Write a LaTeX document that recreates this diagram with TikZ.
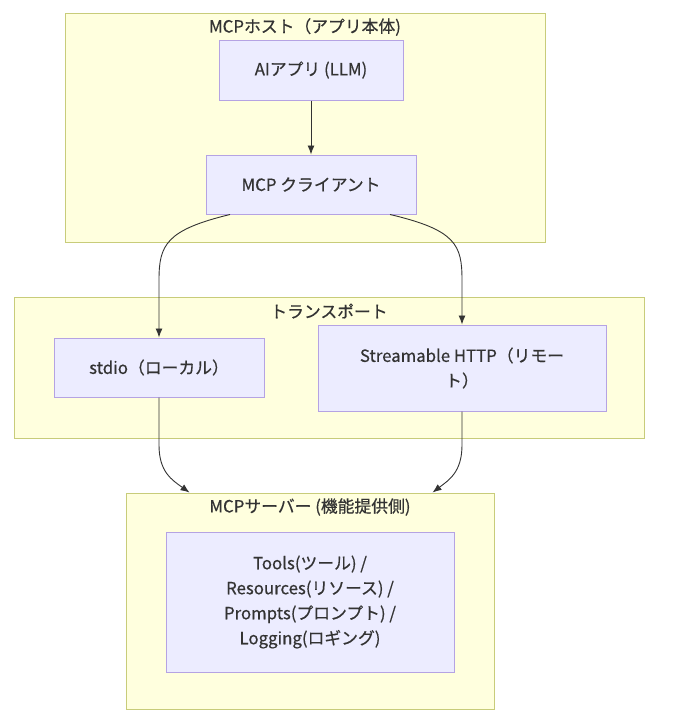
\documentclass[tikz,border=0pt]{standalone}
\usepackage{fontspec}
\setmainfont{Noto Sans CJK JP}[FakeBold=0.5]
\usetikzlibrary{calc, arrows.meta}
\definecolor{GroupFill}{HTML}{FFFFDE}
\definecolor{GroupLine}{HTML}{C8CC7A}
\definecolor{BoxFill}{HTML}{ECECFF}
\definecolor{BoxLine}{HTML}{B5A3E3}
\definecolor{TextGray}{HTML}{333333}
\newcommand{\TextSize}{\fontsize{16.8}{25}\selectfont}
\tikzset{Group/.style 2 args={
		draw=GroupLine,
		fill=GroupFill,
		line width=1pt,
		minimum width=#1,
		minimum height=#2,
		inner sep=0pt,
	},
	Box/.style 2 args={
		draw=BoxLine,
		fill=BoxFill,
		line width=1pt,
		minimum width=#1,
		minimum height=#2,
		inner sep=0pt,
		align=center,
		text=TextGray,
		font=\TextSize,
	},
	Title/.style={
		text=TextGray,
		font=\TextSize,
		inner sep=0pt,
	},
	Link/.style={
		draw=TextGray,
		line width=0.9pt,
		-{Latex[length=9pt,width=7pt]},
	}
}

\begin{document}
\begin{tikzpicture}[x=1pt, y=-1pt]
		\useasboundingbox (0,0) rectangle (675,720);
		% groups
		\node [Group={480pt}{229pt}] (Host) at (305,127.5) {};
		\node [Group={630pt}{141pt}] (Transport) at (329,367.5) {};
		\node [Group={368pt}{216pt}] (Server) at (310,601) {};
		\node [Title] (HostTitle) at (305,27) {MCPホスト（アプリ本体)};
		\node [Title] (TransportTitle) at (329,311) {トランスポート};
		\node [Title] (ServerTitle) at (310,507) {MCPサーバー (機能提供側)};
		% boxes
		\node [Box={184pt}{60pt}] (App) at (311,70) {AIアプリ (LLM)};
		\node [Box={210pt}{59pt}] (Client) at (311,184.5) {MCP クライアント};
		\node [Box={210pt}{59pt}] (Stdio) at (159,367.5) {stdio（ローカル）};
		\node [Box={288pt}{86pt}] (Stream) at (462,368) {Streamable HTTP（リモー\\ト）};
		\node [Box={288pt}{140pt}] (Features) at (310,602) {Tools(ツール) /\\Resources(リソース) /\\Prompts(プロンプト) /\\Logging(ロギング)};
		% links
		\draw [Link] (App) -- (Client);
		\draw [Link] ([xshift=-81pt]Client.south) .. controls (166,230) and (159,245) .. (159,280) -- (Stdio.north);
		\draw [Link] ([xshift=79pt]Client.south) .. controls (456,230) and (462,245) .. (462,280) -- (Stream.north);
		\draw [Link] (Stdio.south) -- (159,445) .. controls (159,472) and (172,480) .. ($(Server.north west)+(64pt,0)$);
		\draw [Link] (Stream.south) -- (462,445) .. controls (462,472) and (449,480) .. ($(Server.north east)+(-62pt,0)$);
	\end{tikzpicture}
\end{document}
